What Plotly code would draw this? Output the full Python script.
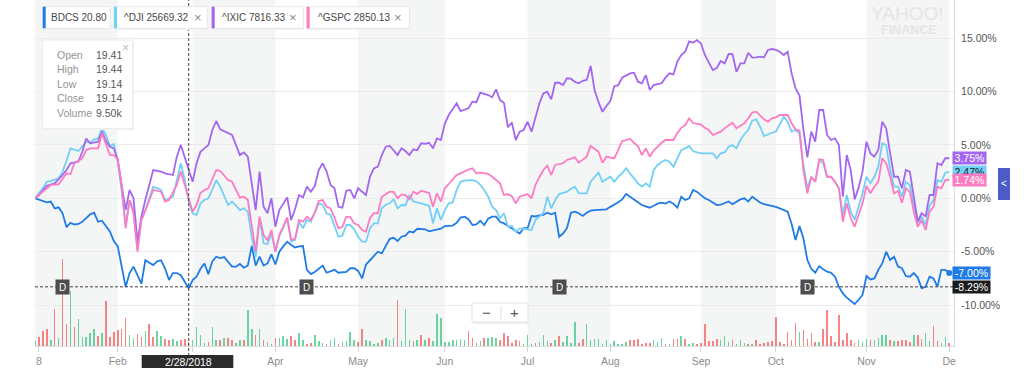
import pandas as pd
import plotly.graph_objects as go

# ---------------- data ----------------
HOLIDAYS = ["2018-01-15", "2018-02-19", "2018-03-30", "2018-05-28",
            "2018-07-04", "2018-09-03", "2018-11-22"]
trading_days = [d for d in pd.bdate_range("2018-01-02", "2018-12-03")
                if d.strftime("%Y-%m-%d") not in HOLIDAYS]

# BDCS % change, one value per trading day
bdcs_pct = [
    0, -0.1, -0.25, -0.37, -0.3, -0.94, -0.85, -1.4, -2.7, -2.3,
    -2.45, -2.4, -2.2, -1.8, -1.5, -1.35, -2.2, -2.1, -2.65, -3.1,
    -4.0, -4.5, -6.4, -8.3, -7.0, -6.4, -7.2, -8.0, -5.8, -6.0,
    -6.25, -5.9, -5.8, -6.55, -7.65, -7.0, -7.0, -7.2, -7.8, -8.43,
    -7.65, -7.34, -6.6, -6.1, -7.1, -5.9, -5.47, -5.6, -5.5, -6.0,
    -6.4, -6.4, -6.15, -6.5, -6.3, -4.47, -6.3, -5.47, -6.3, -6.1,
    -5.25, -6.2, -5.0, -4.5, -4.06, -4.37, -4.6, -4.5, -4.47, -6.7,
    -7.1, -6.9, -6.6, -6.3, -6.97, -6.8, -6.7, -6.97, -6.9, -6.9,
    -6.55, -6.55, -6.8, -7.5, -6.2, -5.8, -5.4, -5.0, -5.15, -4.4,
    -3.8, -3.7, -4.0, -3.6, -3.5, -3.1, -3.2, -2.85, -2.9, -2.9,
    -3.1, -3.0, -2.9, -2.85, -2.6, -2.6, -2.55, -2.3, -1.8, -1.72,
    -1.95, -2.5, -2.45, -2.1, -2.5, -1.9, -1.72, -1.72, -2.2, -2.35,
    -2.6, -2.8, -3.1, -3.3, -2.8, -2.8, -1.65, -1.7, -1.6, -1.56,
    -1.35, -1.5, -1.35, -3.6, -3.3, -2.8, -1.35, -1.25, -1.4, -1.65,
    -1.35, -1.16, -1.1, -1.1, -1.05, -1.03, -0.8, -0.6, -0.37, -0.1,
    0.4, 0.15, -0.1, -0.4, -0.63, -0.75, -0.88, -0.7, -0.5, -0.4,
    -0.5, -0.3, -0.5, -0.88, 0.15, -0.16, 0.0, 0.78, 0.6, 0.3,
    0.0, -0.16, -0.4, -0.63, -0.6, -0.45, -0.3, -0.56, -0.3, -0.1,
    0.0, -0.3, 0.15, -0.1, -0.4, -0.55, -0.63, -0.69, -0.8, -0.94,
    -1.1, -1.25, -2.4, -3.9, -2.6, -3.75, -5.78, -6.6, -6.97, -6.34,
    -6.65, -6.87, -6.97, -7.34, -8.28, -8.9, -9.3, -9.6, -9.9, -9.5,
    -9.05, -7.28, -7.6, -7.5, -6.7, -6.1, -5.0, -5.78, -5.47, -6.4,
    -6.55, -7.28, -7.34, -7.0, -7.4, -8.43, -8.28, -7.34, -7.5, -8.28,
    -6.7, -6.7, -7.0,
]

# (trading-day number, % change)
dji_pts = [
    (0, 0), (2, 0.94), (3, 1.55), (4, 1.6), (6, 1.87), (7, 2.5), (8, 3.52), (9, 4.68), (11, 4.43), (12, 4.83),
    (13, 5.3), (14, 5.2), (15, 5.52), (16, 5.6), (17, 6.55), (18, 5.93), (19, 4.9), (20, 5.08), (21, 3.43), (22, 0.62),
    (23, -2.5), (24, -0.16), (25, -1.1), (26, -4.84), (27, -2.03), (28, -1.1), (30, 1.09), (32, 0.78), (33, -0.16), (35, 0.15),
    (36, 1.71), (37, 3.28), (38, 1.71), (39, -0.3), (40, -1.4), (41, -1.56), (42, -0.47), (43, -0.16), (44, 0), (46, 1.71),
    (47, 1.09), (49, -0.63), (50, -0.3), (52, -1.1), (53, -0.94), (54, -1.25), (55, -3.6), (56, -5.47), (57, -1.87), (58, -4.21),
    (59, -4.28), (60, -3.28), (61, -5.0), (62, -3.53), (64, -1.87), (65, -4.06), (66, -3.9), (67, -2.19), (68, -2.81), (69, -2.03),
    (70, -2.2), (71, -1.4), (72, -0.47), (73, -0.6), (74, -1.4), (75, -1.56), (76, -2.5), (77, -3.6), (78, -3.5), (79, -2.5),
    (80, -2.5), (81, -2.9), (82, -3.6), (83, -4.06), (84, -4.06), (85, -2.81), (86, -2.34), (87, -2.34), (88, -0.94), (89, -0.6),
    (90, -0.47), (91, -0.1), (92, -0.94), (93, -0.63), (94, -0.65), (95, 0.31), (96, -0.3), (97, -0.35), (98, -0.47), (99, -0.6),
    (100, -0.7), (101, -2.34), (102, -0.94), (103, -2.03), (104, -1.1), (105, -0.47), (106, -0.4), (107, 0.78), (108, 1.55), (109, 1.65),
    (110, 1.71), (111, 1.7), (112, 1.6), (113, 1.25), (114, 0.78), (115, 0.15), (116, -0.79), (117, -1.1), (118, -1.87), (119, -1.4),
    (120, -2.66), (121, -2.6), (122, -3.13), (123, -2.81), (124, -2.85), (125, -2.9), (126, -2.97), (127, -2.03), (128, -1.7), (129, -1.4),
    (130, 0.15), (131, -0.94), (132, -0.16), (133, 0.4), (134, 0.5), (135, 0.62), (136, 0.9), (137, 1.09), (138, 0.47), (139, 0.47),
    (140, 0.47), (141, 1.55), (142, 2.0), (143, 2.4), (144, 1.55), (145, 1.8), (146, 2.02), (147, 1.55), (148, 2.02), (149, 2.34),
    (150, 2.81), (151, 2.34), (152, 1.87), (153, 1.4), (154, 1.09), (155, 1.4), (156, 1.09), (157, 2.65), (158, 3.12), (159, 3.4),
    (160, 3.59), (161, 3.43), (162, 2.96), (163, 3.75), (164, 4.52), (165, 4.68), (166, 4.9), (167, 4.4), (168, 4.3), (169, 4.21),
    (170, 4.2), (171, 4.2), (172, 4.21), (173, 3.75), (174, 4.21), (175, 4.3), (176, 4.83), (177, 4.99), (178, 4.68), (179, 5.46),
    (180, 6.0), (181, 6.4), (182, 7.27), (183, 7.4), (184, 6.7), (185, 5.83), (186, 6.0), (187, 6.14), (188, 6.24), (189, 6.96),
    (190, 7.64), (191, 7.17), (192, 6.24), (193, 6.4), (194, 6.09), (195, 3.12), (196, 0.94), (197, 2.02), (198, 1.55), (199, 3.59),
    (200, 3.28), (201, 2.02), (202, 2.02), (203, 1.55), (204, 0.94), (205, -1.56), (206, 0.31), (207, -1.25), (208, -2.03), (209, -0.79),
    (210, 0.47), (211, 2.02), (212, 1.4), (213, 2.02), (214, 2.96), (215, 5.15), (216, 4.99), (217, 2.65), (218, 1.09), (219, 1.09),
    (220, 0.15), (221, 1.55), (222, 1.25), (223, -0.63), (224, -2.34), (225, -1.72), (226, -2.5), (227, -0.7), (228, -0.16), (229, 1.71),
    (230, 1.55), (231, 2.4), (232, 2.47),
]

ixic_pts = [
    (0, 0), (1, 0.31), (3, 1.18), (5, 1.4), (7, 2.18), (8, 2.65), (9, 3.28), (11, 3.43), (12, 4.36), (13, 5.6),
    (14, 5.15), (16, 5.3), (17, 6.24), (18, 5.4), (19, 4.83), (20, 4.68), (21, 3.59), (22, 1.09), (23, -1.1), (24, 0.78),
    (25, 0), (26, -4.06), (27, -1.72), (28, -0.16), (30, 2.65), (32, 2.5), (33, 2.34), (35, 2.18), (36, 3.9), (37, 5.0),
    (38, 3.9), (39, 2.65), (40, 1.55), (41, 3.28), (42, 4.36), (43, 4.68), (44, 5.0), (45, 6.4), (46, 7.24), (47, 6.46),
    (49, 6.14), (50, 5.93), (52, 4.05), (53, 4.3), (54, 3.9), (55, 1.4), (56, -1.1), (57, 2.5), (58, -0.79), (59, -1.4),
    (60, 0), (61, -2.66), (62, -1.1), (64, 0.09), (65, -2.03), (66, -1.0), (67, 0.31), (68, 0.09), (69, 1.09), (70, 0.62),
    (71, 1.15), (72, 2.65), (73, 3.28), (74, 2.5), (75, 1.25), (76, 0.94), (77, -0.79), (78, -0.88), (79, 0.71), (80, 0.78),
    (81, 0.0), (82, 0.94), (83, 0.6), (84, 0.31), (85, 2.02), (86, 2.8), (87, 2.96), (88, 4.05), (89, 4.83), (90, 4.9),
    (91, 4.5), (92, 4.05), (93, 4.68), (94, 4.43), (95, 4.05), (96, 4.59), (97, 4.5), (98, 5.15), (99, 5.1), (100, 5.2),
    (101, 4.68), (102, 5.6), (103, 5.46), (104, 7.0), (105, 7.8), (106, 8.3), (107, 8.9), (108, 8.17), (109, 8.3), (110, 8.43),
    (111, 9.05), (112, 9.0), (113, 9.9), (114, 9.8), (115, 9.67), (116, 9.46), (117, 10.2), (118, 9.2), (119, 8.95), (120, 6.65),
    (121, 7.1), (122, 5.46), (123, 6.24), (124, 6.4), (125, 7.17), (126, 6.24), (127, 7.58), (128, 8.9), (129, 9.83), (130, 9.98),
    (131, 9.27), (132, 10.82), (133, 10.82), (134, 10.6), (135, 11.24), (136, 11.2), (137, 10.9), (138, 10.77), (139, 11.0), (140, 11.08),
    (141, 12.39), (142, 10.14), (143, 9.0), (144, 8.1), (145, 8.64), (146, 9.1), (147, 10.5), (148, 10.6), (149, 11.3), (150, 11.5),
    (151, 11.7), (152, 11.76), (153, 10.92), (154, 10.77), (155, 11.54), (156, 10.14), (157, 10.6), (158, 10.7), (159, 10.77), (160, 11.3),
    (161, 11.7), (162, 11.6), (163, 12.8), (164, 13.42), (165, 13.73), (166, 14.7), (167, 14.57), (168, 14.82), (169, 14.5), (170, 13.42),
    (171, 12.64), (172, 12.01), (173, 12.2), (174, 12.86), (175, 12.64), (176, 13.51), (177, 13.5), (178, 11.85), (179, 12.64), (180, 12.64),
    (181, 13.63), (182, 13.17), (183, 13.2), (184, 13.26), (185, 13.2), (186, 13.89), (187, 13.98), (188, 13.9), (189, 13.73), (190, 13.42),
    (191, 13.73), (192, 11.7), (193, 10.3), (194, 9.62), (195, 6.4), (196, 3.84), (197, 6.24), (198, 5.3), (199, 8.27), (200, 8.27),
    (201, 5.93), (202, 5.46), (203, 5.62), (204, 4.99), (205, 0.15), (206, 4.05), (207, 2.65), (208, -0.1), (209, 1.0), (210, 2.5),
    (211, 5.3), (212, 4.21), (213, 3.9), (214, 4.52), (215, 7.17), (216, 6.55), (217, 4.21), (218, 2.02), (219, 2.02), (220, 0.94),
    (221, 2.65), (222, 2.5), (223, 0.15), (224, -2.19), (225, -1.4), (226, -1.72), (227, 0.31), (228, 0.31), (229, 3.28), (230, 3.12),
    (231, 3.75), (232, 3.75),
]

gspc_pts = [
    (0, 0), (2, 0.62), (4, 1.25), (6, 1.31), (7, 1.87), (8, 2.34), (9, 2.25), (10, 3.28), (12, 3.75), (13, 4.52),
    (14, 4.68), (16, 4.68), (17, 6.09), (18, 5.15), (19, 4.05), (20, 4.05), (21, 3.65), (22, 1.09), (23, -2.81), (24, -0.16),
    (25, -1.4), (26, -5.0), (27, -2.03), (28, -1.16), (30, 0.78), (32, 0.62), (33, -0.3), (34, -0.16), (36, 1.25), (37, 2.5),
    (38, 1.25), (39, -0.16), (40, -1.25), (41, -0.63), (42, 0.52), (43, 0.78), (44, 0.94), (46, 2.65), (47, 2.56), (49, 1.71),
    (50, 1.55), (52, 0.06), (53, 0.15), (54, -0.16), (55, -2.66), (56, -5.0), (57, -1.72), (58, -3.44), (59, -3.9), (60, -2.97),
    (61, -5.0), (62, -3.44), (64, -1.78), (65, -3.9), (66, -3.75), (67, -2.03), (68, -2.19), (69, -1.72), (70, -2.03), (71, -1.35),
    (72, -0.25), (73, -0.16), (74, -0.79), (75, -0.94), (76, -1.8), (77, -2.81), (78, -2.66), (79, -1.72), (80, -1.75), (81, -2.34),
    (82, -2.5), (83, -2.97), (84, -3.13), (85, -1.87), (86, -1.4), (87, -1.4), (88, 0.15), (89, 0.4), (90, 0.62), (91, 0.6),
    (92, 0), (93, 0.37), (94, 0.3), (95, -0.1), (96, 0.62), (97, 0.4), (98, 0.71), (99, 0.6), (100, 0.5), (101, -0.79),
    (102, 0.47), (103, -0.3), (104, 0.94), (105, 1.34), (106, 1.8), (107, 2.18), (108, 2.34), (109, 2.56), (110, 2.7), (111, 2.81),
    (112, 2.34), (113, 2.4), (114, 2.35), (115, 2.3), (116, 2.02), (117, 1.71), (118, 1.4), (119, 0.31), (120, 0.4), (121, 0.2),
    (122, -0.47), (123, 0.15), (124, 0.3), (125, 0.4), (126, 0), (127, 1.25), (128, 2.0), (129, 2.65), (130, 3.05), (131, 2.18),
    (132, 3.12), (133, 3.2), (134, 3.28), (135, 3.59), (136, 3.7), (137, 3.84), (138, 3.33), (139, 3.6), (140, 3.9), (141, 4.9),
    (142, 4.6), (143, 4.36), (144, 3.33), (145, 3.9), (146, 3.8), (147, 3.75), (148, 4.52), (149, 5.37), (150, 5.45), (151, 5.58),
    (152, 5.2), (153, 4.9), (154, 4.05), (155, 4.68), (156, 3.9), (157, 4.5), (158, 4.83), (159, 5.2), (160, 5.46), (161, 5.46),
    (162, 5.46), (163, 6.1), (164, 6.6), (165, 6.86), (166, 7.49), (167, 7.05), (168, 6.95), (169, 6.9), (170, 6.6), (171, 6.4),
    (172, 5.93), (173, 6.1), (174, 6.24), (175, 6.55), (176, 6.8), (177, 7.08), (178, 6.55), (179, 6.8), (180, 7.02), (181, 7.5),
    (182, 8.02), (183, 8.11), (184, 7.71), (185, 7.4), (186, 7.17), (187, 7.49), (188, 7.58), (189, 7.8), (190, 7.8), (191, 7.8),
    (192, 7.02), (193, 6.46), (194, 6.33), (195, 2.65), (196, 0.47), (197, 2.02), (198, 1.55), (199, 3.65), (200, 3.59), (201, 2.02),
    (202, 2.02), (203, 1.55), (204, 0.94), (205, -2.19), (206, -0.47), (207, -1.87), (208, -2.66), (209, -1.56), (210, -0.47), (211, 1.15),
    (212, 0.47), (213, 1.09), (214, 1.55), (215, 3.75), (216, 3.28), (217, 2.02), (218, 0.47), (219, 0.68), (220, -0.41), (221, 0.94),
    (222, 0.62), (223, -1.25), (224, -2.66), (225, -2.03), (226, -2.97), (227, -1.25), (228, -0.79), (229, 1.09), (230, 0.94), (231, 1.71),
    (232, 1.74),
]

# BDCS volume, thousands of shares, one per trading day
volume_k = [
    10.3, 19.8, 33.0, 36.7, 12.5, 80.7, 17.6, 191.4, 47.7, 121.0,
    41.8, 60.1, 19.8, 19.8, 29.3, 36.7, 22.0, 29.3, 99.0, 20.5,
    31.5, 35.2, 37.4, 62.3, 24.2, 17.6, 26.4, 19.8, 33.0, 47.7,
    20.5, 33.0, 22.0, 15.4, 13.9, 15.4, 10.3, 13.9, 15.4, 9.5,
    12.5, 41.8, 24.2, 6.6, 8.1, 41.8, 12.5, 13.9, 17.6, 17.6,
    12.5, 6.6, 12.5, 12.5, 79.2, 37.4, 24.2, 36.7, 12.5, 8.1,
    4.4, 17.6, 16.9, 22.7, 15.4, 22.7, 13.9, 29.3, 13.9, 5.1,
    6.6, 24.2, 10.3, 6.6, 5.1, 12.5, 17.6, 5.1, 8.1, 11.0,
    31.5, 12.5, 8.1, 36.7, 13.9, 10.3, 5.1, 6.6, 13.9, 17.6,
    13.9, 17.6, 101.2, 10.3, 81.4, 12.5, 10.3, 12.5, 24.2, 13.9,
    17.6, 10.3, 70.4, 60.9, 8.1, 8.1, 13.9, 13.9, 15.4, 13.9,
    33.0, 17.6, 6.6, 11.0, 17.6, 17.6, 20.5, 17.6, 13.9, 29.3,
    22.0, 6.6, 12.5,
    11.0, 5.3, 23.5, 5.3, 7.5, 8.8, 23.5, 11.0, 6.6, 12.5,
    22.9, 8.1, 22.9, 6.6, 52.8, 6.6, 16.3, 49.3, 12.5, 16.3,
    16.3, 5.3, 12.5, 5.3, 10.3, 5.3, 5.3, 8.8, 12.5, 12.5,
    16.3, 5.3, 6.6, 6.6, 14.1, 8.8, 16.9, 4.4, 4.4, 16.3,
    16.3, 22.9, 16.3, 5.3, 7.5, 5.3, 6.6, 49.3, 10.3, 11.0,
    16.3, 12.5, 22.0, 8.8, 12.5, 5.3, 14.1, 6.6, 5.3, 5.3,
    14.1, 5.3, 6.6, 8.8, 10.3, 63.8, 8.8, 5.3, 30.1, 14.1,
    50.6, 30.1, 36.1, 16.3, 28.6, 8.8, 8.8, 36.7, 78.5, 21.3,
    8.8, 67.5, 14.1, 28.6, 12.5, 6.6, 14.1, 8.8, 16.3, 12.5,
    12.5, 18.5, 25.1, 23.5, 12.5, 10.3, 10.3, 12.5, 12.5, 8.8,
    25.1, 25.1, 16.3, 28.6, 10.3, 43.3, 10.3, 6.6, 19.8, 6.6,
]

symbols = ["BDCS", "^DJI", "^IXIC", "^GSPC"]
last_prices = ["20.80", "25669.32", "7816.33", "2850.13"]
hover_date = "2018-02-28"
hover_pct = -8.29
tooltip_labels = ["Open", "High", "Low", "Close", "Volume"]
tooltip_values = ["19.41", "19.44", "19.14", "19.14", "9.50k"]
ex_div_dates = ["2018-01-11", "2018-04-12", "2018-07-13", "2018-10-11"]
tick_dates = ["2018-01-03", "2018-02-01", "2018-03-01", "2018-04-02", "2018-05-01", "2018-06-01",
              "2018-07-02", "2018-08-01", "2018-09-04", "2018-10-01", "2018-11-01", "2018-12-03"]
# "Mar" sits under the hovered-date box in the reference, so it shows no text
tick_labels = ["8", "Feb", "", "Apr", "May", "Jun", "Jul", "Aug", "Sep", "Oct", "Nov", "De"]
y_ticks = [-10, -5, 0, 5, 10, 15]

# ---------------- styling ----------------
FONT = "Liberation Sans, Arial, sans-serif"
C_BDCS = "#1f7be6"
C_DJI = "#72d0f6"
C_IXIC = "#a366f0"
C_GSPC = "#fd7bc3"
UP = "rgba(52,196,128,0.72)"
DOWN = "rgba(242,86,86,0.72)"

W, H = 1024, 368
L, R, T, B = 35, 954, 0, 346


def px(x):
    return (x - L) / (R - L)


def py(y):
    return (B - y) / (B - T)


n = min(len(trading_days), len(bdcs_pct), len(volume_k))
days = trading_days[:n]

fig = go.Figure()

vol_colors = [UP if i == 0 or bdcs_pct[i] >= bdcs_pct[i - 1] else DOWN for i in range(n)]
fig.add_trace(go.Bar(x=days, y=volume_k[:n], marker=dict(color=vol_colors, line=dict(width=0)),
                     width=0.4 * 86400000, yaxis="y2", hoverinfo="skip"))


def pts_xy(pts):
    return [trading_days[t] for t, v in pts], [v for t, v in pts]


fig.add_trace(go.Scatter(x=days, y=bdcs_pct[:n], mode="lines",
                         line=dict(color=C_BDCS, width=1.8)))
for pts, col in [(dji_pts, C_DJI), (ixic_pts, C_IXIC), (gspc_pts, C_GSPC)]:
    xs, ys = pts_xy(pts)
    fig.add_trace(go.Scatter(x=xs, y=ys, mode="lines", line=dict(color=col, width=1.8)))

fig.add_trace(go.Scatter(x=[days[-1]], y=[bdcs_pct[n - 1]], mode="markers",
                         marker=dict(color=C_BDCS, size=6)))

x_end = trading_days[-1] + pd.Timedelta(hours=29)

# ---------------- shapes ----------------
shapes = []
month_starts = []
seen = set()
for d in trading_days:
    if d.month not in seen:
        seen.add(d.month)
        month_starts.append(d)
for i, d in enumerate(month_starts):
    if d.month % 2 == 1:
        x1 = month_starts[i + 1] if i + 1 < len(month_starts) else x_end
        shapes.append(dict(type="rect", xref="x", yref="paper", x0=d, x1=x1, y0=0, y1=1,
                           fillcolor="#f4f5f5", line=dict(width=0), layer="below"))

# dashed hover level line and crosshair
shapes.append(dict(type="line", xref="paper", yref="y", x0=0, x1=1, y0=hover_pct, y1=hover_pct,
                   line=dict(color="#444", width=1, dash="3px,2px"), layer="above"))
shapes.append(dict(type="line", xref="x", yref="paper", x0=hover_date, x1=hover_date, y0=py(356), y1=1,
                   line=dict(color="#444", width=1, dash="3px,2px"), layer="above"))


def rect(x0, y0, x1, y1, fill, line="#e4e4e4", lw=1):
    return dict(type="rect", xref="paper", yref="paper", x0=px(x0), x1=px(x1), y0=py(y1), y1=py(y0),
                fillcolor=fill, line=dict(color=line, width=lw), layer="above")


# legend chips
chip_box = [(42.7, 110), (114, 207.3), (211.7, 303.3), (306.7, 409.3)]
chip_cols = [C_BDCS, C_DJI, C_IXIC, C_GSPC]
for (x0, x1), col in zip(chip_box, chip_cols):
    shapes.append(rect(x0 + 1, 8, x1 + 1, 30, "#f0f0f0", line="#f0f0f0", lw=0))
    shapes.append(rect(x0, 6.7, x1, 28.3, "white", line="#e8e8e8"))
    shapes.append(rect(x0, 6.7, x0 + 3, 28.3, col, line=col, lw=0))

# tooltip box
shapes.append(rect(44, 42, 134, 130, "#f1f1f1", line="#f1f1f1", lw=0))
shapes.append(rect(42.7, 40, 132.7, 128.3, "white", line="#ececec"))

# zoom control
shapes.append(rect(473, 305, 529, 324, "#f0f0f0", line="#f0f0f0", lw=0))
shapes.append(rect(472, 303, 528, 322, "white", line="#e3e3e3"))
shapes.append(dict(type="line", xref="paper", yref="paper", x0=px(501), x1=px(501), y0=py(319), y1=py(306),
                   line=dict(color="#dddddd", width=1), layer="above"))

# date box
shapes.append(rect(141.7, 355, 233.3, 372, "#2b2b2b", line="#2b2b2b", lw=0))

# right tab
shapes.append(rect(998, 168, 1010, 200, "#4c5bc6", line="#4c5bc6", lw=0))

# ---------------- annotations ----------------
ann = []


def text(x, y, s, size=10.5, color="#444", xanchor="center", **kw):
    ann.append(dict(xref="paper", yref="paper", x=px(x), y=py(y), text=s, showarrow=False,
                    font=dict(size=size, color=color, family=FONT), xanchor=xanchor, yanchor="middle", **kw))


# watermark
text(907, 13, "YAHOO!", size=19, color="#e4e5e5")
text(908.5, 29.5, "<b>FINANCE</b>", size=12.5, color="#e4e5e5")

# chips text
chip_text_x = [49, 122, 219.5, 315.5]
chip_close_x = [None, 197.7, 293.3, 398.3]
for s, p, tx, cx in zip(symbols, last_prices, chip_text_x, chip_close_x):
    text(tx, 17.5, f"{s} {p}", size=10, color="#464646", xanchor="left")
    if cx is not None:
        text(cx, 17.5, "×", size=13, color="#8e8e8e")

# tooltip
row_y = [54.7, 69.2, 83.7, 98.2, 112.7]
for lab, val, yy in zip(tooltip_labels, tooltip_values, row_y):
    text(54.5, yy, lab, size=10.5, color="#949494", xanchor="left")
    text(94, yy, val, size=10.5, color="#555555", xanchor="left")
text(125, 48, "×", size=12, color="#c0c0c0")

# zoom control glyphs
text(486, 312.5, "−", size=15, color="#555")
text(514.5, 312.5, "+", size=15, color="#555")

# date label
hd = pd.Timestamp(hover_date)
ann.append(dict(xref="x", yref="paper", x=hover_date, y=py(361.5), text=f"{hd.month}/{hd.day}/{hd.year}",
                showarrow=False, font=dict(size=10.5, color="white", family=FONT), yanchor="middle"))

# right tab arrow
text(1004, 183.5, "<", size=10, color="white")

# dividend markers
for d in ex_div_dates:
    ann.append(dict(xref="x", yref="y", x=d, y=hover_pct, text="D", showarrow=False,
                    font=dict(size=10, color="white", family=FONT), bgcolor="#4d4d4d",
                    width=13, height=14, borderpad=0, align="center"))

# right-edge value labels
right_labels = [
    (dji_pts[-1][1], C_DJI, "#1b1b1b", 33),
    (ixic_pts[-1][1], C_IXIC, "white", 33),
    (gspc_pts[-1][1], C_GSPC, "white", 33),
    (bdcs_pct[n - 1], C_BDCS, "white", 37),
    (hover_pct, "#1c1c1c", "white", 37),
]
for v, bg, fg, wdt in right_labels:
    ann.append(dict(xref="paper", yref="y", x=1, xshift=-2, y=v, xanchor="left", yanchor="middle",
                    text=f"{v:.2f}%", showarrow=False, bgcolor=bg,
                    font=dict(size=10.5, color=fg, family=FONT), width=wdt, height=12, borderpad=0))

fig.update_layout(
    width=W, height=H,
    margin=dict(l=L, r=W - R, t=T, b=H - B),
    paper_bgcolor="white", plot_bgcolor="white",
    showlegend=False, hovermode=False, bargap=0,
    font=dict(family=FONT),
    shapes=shapes, annotations=ann,
    xaxis=dict(
        type="date",
        range=[trading_days[0], x_end],
        rangebreaks=[dict(bounds=["sat", "mon"]), dict(values=HOLIDAYS)],
        tickvals=tick_dates, ticktext=tick_labels,
        ticks="outside", ticklen=5, tickcolor="#d6d6d6",
        showline=True, linecolor="#dcdcdc", linewidth=1,
        showgrid=False, zeroline=False,
        tickfont=dict(size=10.5, color="#8c8c8c", family=FONT),
    ),
    yaxis=dict(
        side="right", range=[-13.83, 18.57],
        tickvals=y_ticks, ticktext=[f"{v:.2f}%" for v in y_ticks],
        showgrid=True, gridcolor="#ebebeb", gridwidth=1, zeroline=False,
        showline=True, linecolor="#dcdcdc", linewidth=1,
        ticks="", ticklabelstandoff=4,
        tickfont=dict(size=10.5, color="#555555", family=FONT),
    ),
    yaxis2=dict(overlaying="y", range=[0, 761], visible=False),
)

fig.write_html("out.html", config={"displayModeBar": False},
               post_script="document.body.style.margin='0';document.body.style.overflow='hidden';")
